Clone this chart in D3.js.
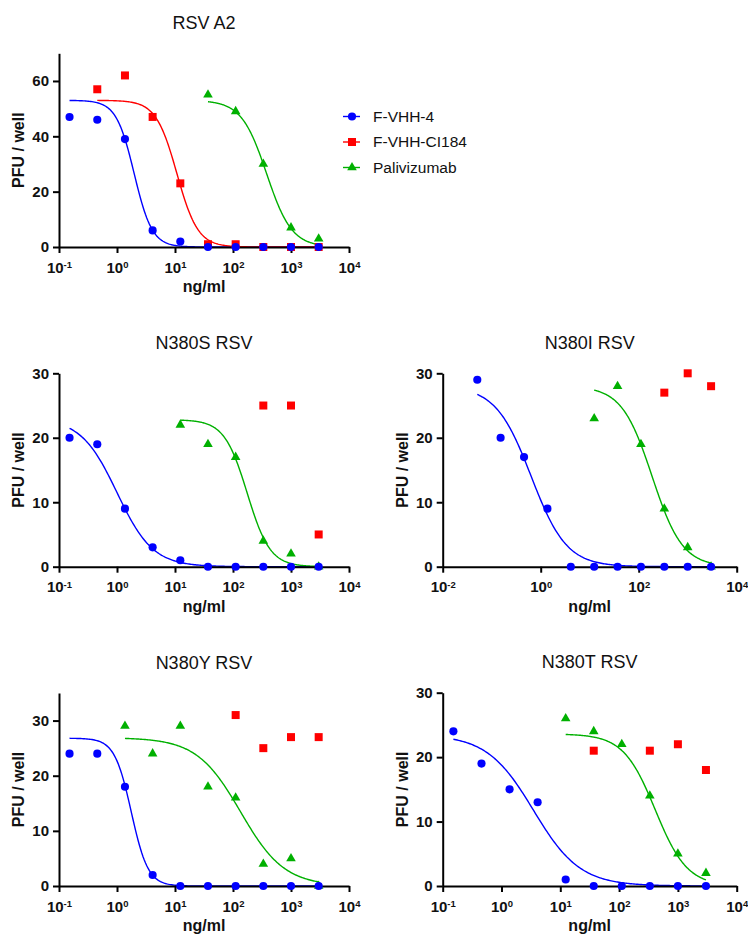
<!DOCTYPE html>
<html>
<head>
<meta charset="utf-8">
<script src="https://cdn.jsdelivr.net/npm/d3@7"></script>
<style>
  body { margin: 0; background: #fff; }
  svg { display: block; font-family: "Liberation Sans", Arial, sans-serif; }
  .axis path, .axis line { stroke: #000; stroke-width: 2; }
  .axis text { font-size: 15px; font-weight: bold; fill: #111; }
  .title { font-size: 18px; fill: #111; }
  .label { font-size: 16px; font-weight: bold; fill: #111; }
  .legend text { font-size: 15.5px; fill: #111; }
</style>
</head>
<body>
<svg id="chart" width="748" height="937"></svg>
<script>
// 3-fold dilutions, ng/ml
var dose = [0.0508, 0.152, 0.457, 1.372, 4.115, 12.35, 37.04, 111.1, 333.3, 1000, 3000];

var seriesNames = ["F-VHH-4", "F-VHH-CI184", "Palivizumab"];
var seriesColors = ["#0000ff", "#ff0000", "#00b000"];

var a2Vhh4   = [null, 47, 46, 39, 6, 2, 0, 0, 0, 0, 0];
var a2Ci184  = [null, null, 57, 62, 47, 23, 1, 1, 0, 0, 0];
var a2Pali   = [null, null, null, null, null, null, 55, 49, 30, 7, 3];

var sVhh4    = [null, 20, 19, 9, 3, 1, 0, 0, 0, 0, 0];
var sCi184   = [null, null, null, null, null, null, null, null, 25, 25, 5];
var sPali    = [null, null, null, null, null, 22, 19, 17, 4, 2, 0];

var iVhh4    = [29, 20, 17, 9, 0, 0, 0, 0, 0, 0, 0];
var iCi184   = [null, null, null, null, null, null, null, null, 27, 30, 28];
var iPali    = [null, null, null, null, null, 23, 28, 19, 9, 3, 0];

var yVhh4    = [null, 24, 24, 18, 2, 0, 0, 0, 0, 0, 0];
var yCi184   = [null, null, null, null, null, null, null, 31, 25, 27, 27];
var yPali    = [null, null, null, 29, 24, 29, 18, 16, 4, 5, 0];

var tVhh4    = [null, 24, 19, 15, 13, 1, 0, 0, 0, 0, 0];
var tCi184   = [null, null, null, null, null, null, 21, null, 21, 22, 18];
var tPali    = [null, null, null, null, null, 26, 24, 22, 14, 5, 2];

// fitted 4PL curves: [top, bottom, IC50, hill, from, to] (null = no fit)
var a2Fits = [[53, 0, 1.98, 2.8, 0.152, 3000], [53, 0, 10.8, 2.4, 0.457, 3000], [53, 0, 380, 2, 37.04, 3000]];
var sFits  = [[23, 0, 1.0, 1.4, 0.152, 3000], null, [22.8, 0, 176, 2.2, 12.35, 3000]];
var iFits  = [[28, 0, 0.64, 1.2, 0.0508, 3000], null, [28, 0, 188, 1.4, 12.35, 3000]];
var yFits  = [[26.8, 0, 1.766, 3, 0.152, 3000], null, [26.9, 0, 135, 1.15, 1.372, 3000]];
var tFits  = [[23.5, 0, 3.5, 1.1, 0.152, 3000], null, [23.6, 0, 413, 1.6, 12.35, 3000]];

var decadeTicks = [0.1, 1, 10, 100, 1000, 10000];
var evenDecadeTicks = [0.01, 1, 100, 10000];

var panels = [
  {title: "RSV A2", x0: 59, x1: 349, top: 53.3, bottom: 247, yMax: 70, yTicks: [0, 20, 40, 60],
   xDomain: [0.1, 10000], xTicks: decadeTicks, data: [a2Vhh4, a2Ci184, a2Pali], fits: a2Fits},
  {title: "N380S RSV", x0: 59, x1: 349, top: 373.3, bottom: 566.7, yMax: 30, yTicks: [0, 10, 20, 30],
   xDomain: [0.1, 10000], xTicks: decadeTicks, data: [sVhh4, sCi184, sPali], fits: sFits},
  {title: "N380I RSV", x0: 442.7, x1: 736.7, top: 373.3, bottom: 566.7, yMax: 30, yTicks: [0, 10, 20, 30],
   xDomain: [0.01, 10000], xTicks: evenDecadeTicks, data: [iVhh4, iCi184, iPali], fits: iFits},
  {title: "N380Y RSV", x0: 59, x1: 349, top: 693, bottom: 886, yMax: 35, yTicks: [0, 10, 20, 30],
   xDomain: [0.1, 10000], xTicks: decadeTicks, data: [yVhh4, yCi184, yPali], fits: yFits},
  {title: "N380T RSV", x0: 442.7, x1: 736.7, top: 692.7, bottom: 886, yMax: 30, yTicks: [0, 10, 20, 30],
   xDomain: [0.1, 10000], xTicks: decadeTicks, data: [tVhh4, tCi184, tPali], fits: tFits}
];

var svg = d3.select("#chart");

var symbols = [d3.symbolCircle, d3.symbolSquare, d3.symbolTriangle];
var symbolSizes = [52, 64, 40];

function fourPL(p, xv) {
  return p[1] + (p[0] - p[1]) / (1 + Math.pow(xv / p[2], p[3]));
}

panels.forEach(function(p) {
  var x = d3.scaleLog().domain(p.xDomain).range([p.x0, p.x1]);
  var y = d3.scaleLinear().domain([0, p.yMax]).range([p.bottom, p.top]);
  var g = svg.append("g");

  // title
  g.append("text")
    .attr("class", "title")
    .attr("x", (p.x0 + p.x1) / 2)
    .attr("y", p.top - 24.5)
    .attr("text-anchor", "middle")
    .text(p.title);

  // fitted curves
  var line = d3.line()
    .x(function(d) { return x(d[0]); })
    .y(function(d) { return y(d[1]); });
  p.fits.forEach(function(f, i) {
    if (!f) return;
    var lx = d3.scaleLog().domain([f[4], f[5]]).range([0, 1]);
    var pts = d3.range(0, 1.0001, 0.005).map(function(t) {
      var v = lx.invert(t);
      return [v, fourPL(f, v)];
    });
    g.append("path")
      .attr("d", line(pts))
      .attr("fill", "none")
      .attr("stroke", seriesColors[i])
      .attr("stroke-width", 1.4);
  });

  // axes
  var xAxis = d3.axisBottom(x).tickValues(p.xTicks).tickSize(6).tickSizeOuter(0).tickPadding(8);
  var gx = g.append("g")
    .attr("class", "axis")
    .attr("transform", "translate(0," + p.bottom + ")")
    .call(xAxis);
  gx.selectAll(".tick text").each(function(d) {
    var t = d3.select(this).text(null).attr("dy", null).attr("y", 25.7);
    t.append("tspan").text("10");
    t.append("tspan")
      .attr("dy", -4.5)
      .attr("font-size", "9.5px")
      .text(String(Math.round(Math.log10(d))));
  });

  var yAxis = d3.axisLeft(y).tickValues(p.yTicks).tickSize(6).tickSizeOuter(0).tickPadding(4);
  g.append("g")
    .attr("class", "axis")
    .attr("transform", "translate(" + p.x0 + ",0)")
    .call(yAxis);

  // axis titles
  g.append("text")
    .attr("class", "label")
    .attr("x", (p.x0 + p.x1) / 2)
    .attr("y", p.bottom + 45)
    .attr("text-anchor", "middle")
    .text("ng/ml");
  g.append("text")
    .attr("class", "label")
    .attr("transform", "translate(" + (p.x0 - 35) + "," + ((p.top + p.bottom) / 2) + ") rotate(-90)")
    .attr("text-anchor", "middle")
    .text("PFU / well");

  // points: palivizumab first, then CI184, VHH-4 on top
  [2, 1, 0].forEach(function(i) {
    var pts = dose.map(function(dv, k) { return [dv, p.data[i][k]]; })
      .filter(function(d) { return d[1] !== null; });
    g.selectAll(".pt" + i)
      .data(pts)
      .enter().append("path")
      .attr("d", d3.symbol().type(symbols[i]).size(symbolSizes[i]))
      .attr("transform", function(d) { return "translate(" + x(d[0]) + "," + y(d[1]) + ")"; })
      .attr("fill", seriesColors[i]);
  });
});

// legend
var legendY = [116.5, 142, 167.5];
var legend = svg.append("g").attr("class", "legend");
seriesNames.forEach(function(name, i) {
  var lg = legend.append("g").attr("transform", "translate(0," + legendY[i] + ")");
  lg.append("line")
    .attr("x1", 343).attr("x2", 360)
    .attr("stroke", seriesColors[i])
    .attr("stroke-width", 1.4);
  lg.append("path")
    .attr("d", d3.symbol().type(symbols[i]).size(symbolSizes[i]))
    .attr("transform", "translate(352,0)")
    .attr("fill", seriesColors[i]);
  lg.append("text")
    .attr("x", 373)
    .attr("dy", "0.35em")
    .text(name);
});
</script>
</body>
</html>
